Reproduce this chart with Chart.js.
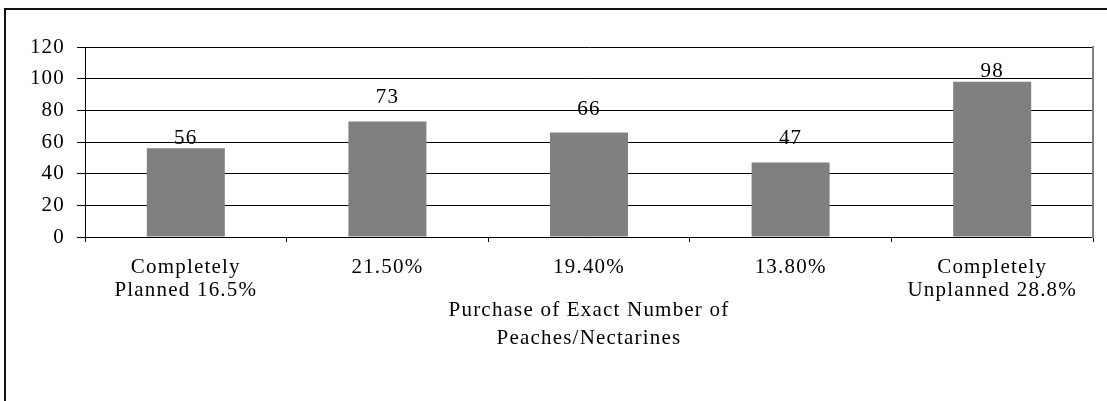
<!DOCTYPE html>
<html>
<head>
<meta charset="utf-8">
<script src="https://cdn.jsdelivr.net/npm/chart.js@4/dist/chart.umd.min.js"></script>
<style>
  html, body { margin: 0; padding: 0; background: #fff; overflow: hidden; }
  #wrap { position: relative; width: 1107px; height: 401px; }
  #frame { position: absolute; left: 4px; top: 8px; width: 1300px; height: 600px; border: 2px solid #111; pointer-events: none; }
  canvas { position: absolute; left: 0; top: 0; }
</style>
</head>
<body>
<div id="wrap">
  <div id="frame"></div>
  <canvas id="chart" width="1107" height="401"></canvas>
</div>
<script>
const categories = [['Completely', 'Planned 16.5%'], '21.50%', '19.40%', '13.80%', ['Completely', 'Unplanned 28.8%']];
const counts = [56, 73, 66, 47, 98];
const axisTitle = ['Purchase of Exact Number of', 'Peaches/Nectarines'];
const yMin = 0;
const yMax = 120;
const yStep = 20;

// how far each value label sits above its bar (the original labels were nudged by hand)
const labelLift = [4, 18, 18, 19, 5];

const serif = "'Liberation Serif', 'Times New Roman', serif";
const spacing = '1.2px';

// canvas letter spacing is part of the context state, so set it before each pass
const spacingPlugin = {
  id: 'spacing',
  beforeLayout(chart) { chart.ctx.letterSpacing = spacing; },
  beforeDraw(chart) { chart.ctx.letterSpacing = spacing; }
};

const valueLabels = {
  id: 'valueLabels',
  afterDatasetsDraw(chart) {
    const ctx = chart.ctx;
    const meta = chart.getDatasetMeta(0);
    ctx.save();
    ctx.letterSpacing = spacing;
    ctx.font = `21px ${serif}`;
    ctx.fillStyle = '#000';
    ctx.textAlign = 'center';
    ctx.textBaseline = 'alphabetic';
    meta.data.forEach((bar, index) => {
      ctx.fillText(String(counts[index]), bar.x, bar.y - labelLift[index]);
    });
    ctx.restore();
  }
};

new Chart(document.getElementById('chart'), {
  type: 'bar',
  data: {
    labels: categories,
    datasets: [{
      label: 'Count',
      data: counts,
      backgroundColor: '#808080',
      borderWidth: 0,
      barPercentage: 0.387,
      categoryPercentage: 1
    }]
  },
  options: {
    responsive: false,
    animation: false,
    events: [],
    layout: { padding: { left: 0, top: 47, right: 14, bottom: 49 } },
    plugins: { legend: { display: false }, tooltip: { enabled: false } },
    scales: {
      x: {
        offset: true,
        afterFit(axis) { axis.height = 115; },
        grid: { display: true, drawOnChartArea: false, color: '#000', lineWidth: 1, tickLength: 5, offset: true },
        border: { display: true, color: '#000', width: 1 },
        ticks: { autoSkip: false, maxRotation: 0, minRotation: 0, padding: 14, color: '#000', font: { family: serif, size: 21, lineHeight: 1.1 } },
        title: { display: true, text: axisTitle, color: '#000', padding: { top: 0, bottom: 0 }, font: { family: serif, size: 21, lineHeight: 1.333 } }
      },
      y: {
        min: yMin,
        max: yMax,
        afterFit(axis) { axis.width = 85; },
        grid: { color: '#000', lineWidth: 1, tickLength: 8 },
        border: { display: true, color: '#000', width: 1 },
        ticks: { stepSize: yStep, padding: 12, color: '#000', font: { family: serif, size: 21 } }
      },
      y2: {
        position: 'right',
        afterFit(axis) { axis.width = 0; },
        grid: { display: false, drawTicks: false },
        border: { display: true, color: '#808080', width: 2 },
        ticks: { display: false }
      }
    }
  },
  plugins: [spacingPlugin, valueLabels]
});
</script>
</body>
</html>
